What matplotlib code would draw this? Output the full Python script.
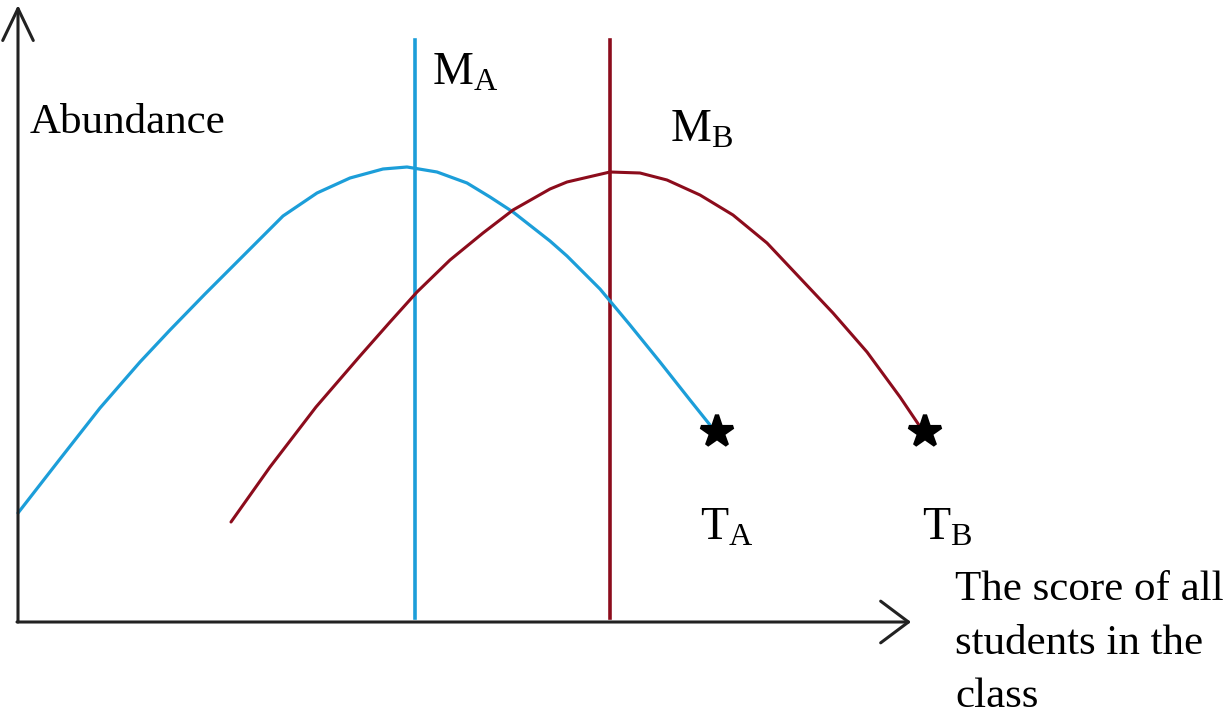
import numpy as np
import matplotlib
matplotlib.use("Agg")
import matplotlib.pyplot as plt
from matplotlib.patches import ArrowStyle

plt.rcParams['font.family'] = ['Liberation Serif', 'DejaVu Serif']
plt.rcParams['mathtext.fontset'] = 'custom'
plt.rcParams['mathtext.rm'] = 'Liberation Serif'
plt.rcParams['mathtext.it'] = 'Liberation Serif'

# score distribution of class A (blue) and class B (red)
score_a = [0, 42, 82, 122, 152, 187, 219, 232, 265, 299, 332, 365, 389, 419,
           449, 472, 495, 532, 549, 582, 612, 642, 672, 692]
abund_a = [109, 163, 214, 260, 292, 328, 360, 373, 406, 429, 444, 453, 455, 450,
           439, 425, 410, 381, 366, 333, 297, 260, 222, 197]
score_b = [213, 252, 298, 342, 372, 399, 432, 465, 495, 532, 549, 592, 622, 649,
           682, 715, 749, 782, 815, 849, 882, 909]
abund_b = [100, 155, 215, 266, 300, 330, 362, 389, 412, 433, 440, 450, 449, 442,
           427, 407, 379, 344, 309, 270, 225, 185]

# means and top scores
mean_a, mean_b = 397, 592
top_a = (699, 190)
top_b = (907, 190)

blue = '#1c9ed9'
red = '#8c0c1c'

fig = plt.figure(figsize=(12.27, 7.16), dpi=100)
ax = fig.add_axes([0, 0, 1, 1])
ax.set_xlim(-18, 1209)
ax.set_ylim(-94, 622)
ax.axis('off')

# axes with open arrow heads
ax.annotate('', xy=(0, 617), xytext=(0, 0),
            arrowprops=dict(arrowstyle=ArrowStyle('->', head_length=23, head_width=11),
                            color='#222222', lw=2.2, mutation_scale=1, shrinkA=0, shrinkB=0))
ax.annotate('', xy=(893, 0), xytext=(-1, 0),
            arrowprops=dict(arrowstyle=ArrowStyle('->', head_length=20, head_width=15),
                            color='#222222', lw=2.2, mutation_scale=1, shrinkA=0, shrinkB=0))

# mean lines
ax.plot([mean_a, mean_a], [4, 582], color=blue, lw=2.6)
ax.plot([mean_b, mean_b], [4, 582], color=red, lw=2.6)

# distributions
ax.plot(score_a, abund_a, color=blue, lw=2.3, solid_capstyle='round', solid_joinstyle='round')
ax.plot(score_b, abund_b, color=red, lw=2.2, solid_capstyle='round', solid_joinstyle='round')

# top students
for pt in (top_a, top_b):
    ax.plot(*pt, marker='*', ms=24, color='black', mec='black', mew=3, mfc='black')

fs = 31
ax.text(12, 499, 'Abundance', fontsize=fs, va='center', ha='left')
ax.text(414, 537, r'$\mathrm{M}_{\mathrm{A}}$', fontsize=fs + 2, ha='left', va='baseline')
ax.text(652, 480, r'$\mathrm{M}_{\mathrm{B}}$', fontsize=fs + 2, ha='left', va='baseline')
ax.text(682, 82, r'$\mathrm{T}_{\mathrm{A}}$', fontsize=fs + 2, ha='left', va='baseline')
ax.text(904, 82, r'$\mathrm{T}_{\mathrm{B}}$', fontsize=fs + 2, ha='left', va='baseline')
ax.text(937, 51, 'The score of all\nstudents in the\nclass', fontsize=fs,
        ha='left', va='top', linespacing=1.5)

fig.savefig('out.png', dpi=100, facecolor='white')
